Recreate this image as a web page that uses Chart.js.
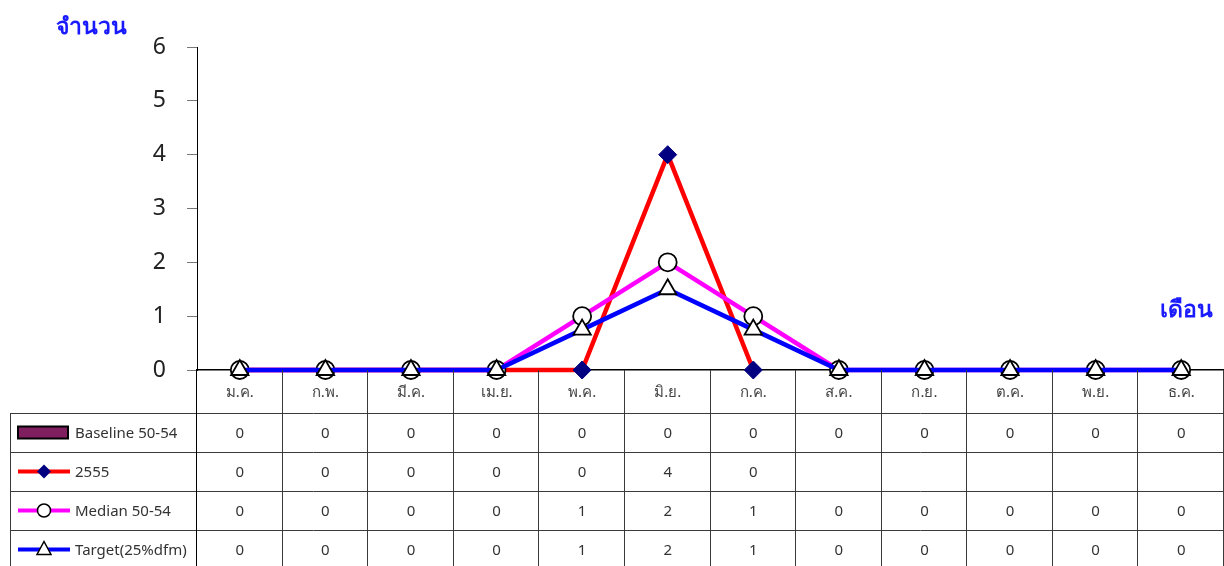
<!DOCTYPE html>
<html>
<head>
<meta charset="utf-8">
<script src="https://cdn.jsdelivr.net/npm/chart.js@4/dist/chart.umd.min.js"></script>
<style>
  body { margin: 0; background: #fff; }
  #chart { display: block; }
</style>
</head>
<body>
<canvas id="chart" width="1224" height="566"></canvas>
<script>
// months (x categories)
const months = ["ม.ค.", "ก.พ.", "มี.ค.", "เม.ย.", "พ.ค.", "มิ.ย.", "ก.ค.", "ส.ค.", "ก.ย.", "ต.ค.", "พ.ย.", "ธ.ค."];

const baseline = [0, 0, 0, 0, 0, 0, 0, 0, 0, 0, 0, 0];
const cases2555 = [0, 0, 0, 0, 0, 4, 0, null, null, null, null, null];
const median = [0, 0, 0, 0, 1, 2, 1, 0, 0, 0, 0, 0];
const target = [0, 0, 0, 0, 0.75, 1.5, 0.75, 0, 0, 0, 0, 0];

const yTicks = [0, 1, 2, 3, 4, 5, 6];

const fontFam = "'Noto Sans', 'DejaVu Sans', sans-serif";

// rows of the data table under the chart
const tableRows = [
  { name: "Baseline 50-54", values: baseline, key: "bar" },
  { name: "2555", values: cases2555, key: "diamond" },
  { name: "Median 50-54", values: median, key: "circle" },
  { name: "Target(25%dfm)", values: target, key: "triangle" }
];

const dataTablePlugin = {
  id: "dataTable",
  afterDraw(chart) {
    const ctx = chart.ctx;
    const x = chart.scales.x;
    const top = chart.chartArea.bottom;   // 370
    const headerH = 43;
    const rowH = 39;
    const left = 10;
    const right = chart.width;
    const half = (x.getPixelForValue(1) - x.getPixelForValue(0)) / 2;

    ctx.save();
    ctx.strokeStyle = "#3a3a3a";
    ctx.lineWidth = 1;

    // horizontal lines
    for (let r = 0; r <= tableRows.length; r++) {
      const y = Math.round(top + headerH + r * rowH) + 0.5;
      ctx.beginPath();
      ctx.moveTo(left, y);
      ctx.lineTo(right, y);
      ctx.stroke();
    }
    // left border of legend column
    ctx.beginPath();
    ctx.moveTo(left + 0.5, top + headerH);
    ctx.lineTo(left + 0.5, chart.height);
    ctx.stroke();
    // vertical lines between months
    for (let i = 0; i <= months.length; i++) {
      const px = Math.min(Math.round(x.getPixelForValue(0) - half + i * 2 * half) - 0.5, right - 0.5);
      ctx.strokeStyle = i === 0 ? "#000" : "#3a3a3a";
      ctx.beginPath();
      ctx.moveTo(px, top);
      ctx.lineTo(px, chart.height);
      ctx.stroke();
    }

    // values
    ctx.fillStyle = "#333";
    ctx.font = "15px " + fontFam;
    ctx.textAlign = "center";
    ctx.textBaseline = "middle";
    tableRows.forEach((row, r) => {
      const cy = top + headerH + r * rowH + rowH / 2 + 1;
      row.values.forEach((v, i) => {
        if (v === null) return;
        ctx.fillText(String(Math.round(v)), x.getPixelForValue(i), cy);
      });
    });

    // legend keys
    tableRows.forEach((row, r) => {
      const cy = top + headerH + r * rowH + rowH / 2;
      const kx1 = 18, kx2 = 70, kc = 44;
      if (row.key === "bar") {
        ctx.fillStyle = "#7f1f5f";
        ctx.strokeStyle = "#000";
        ctx.lineWidth = 2;
        ctx.fillRect(kx1, cy - 6, kx2 - kx1 - 2, 12);
        ctx.strokeRect(kx1, cy - 6, kx2 - kx1 - 2, 12);
      } else {
        const col = row.key === "diamond" ? "#ff0000" : row.key === "circle" ? "#ff00ff" : "#0000ff";
        ctx.strokeStyle = col;
        ctx.lineWidth = 4;
        ctx.beginPath();
        ctx.moveTo(kx1, cy);
        ctx.lineTo(kx2, cy);
        ctx.stroke();
        ctx.lineWidth = 1.5;
        ctx.strokeStyle = "#000";
        if (row.key === "diamond") {
          ctx.fillStyle = "#000080";
          ctx.beginPath();
          ctx.moveTo(kc, cy - 7); ctx.lineTo(kc + 7, cy); ctx.lineTo(kc, cy + 7); ctx.lineTo(kc - 7, cy);
          ctx.closePath();
          ctx.fill();
        } else if (row.key === "circle") {
          ctx.fillStyle = "#fff";
          ctx.beginPath();
          ctx.arc(kc, cy, 6.5, 0, Math.PI * 2);
          ctx.fill();
          ctx.stroke();
        } else {
          ctx.fillStyle = "#fff";
          ctx.beginPath();
          ctx.moveTo(kc, cy - 8); ctx.lineTo(kc + 7, cy + 5); ctx.lineTo(kc - 7, cy + 5);
          ctx.closePath();
          ctx.fill();
          ctx.stroke();
        }
      }
      ctx.fillStyle = "#333";
      ctx.font = "15px " + fontFam;
      ctx.textAlign = "left";
      ctx.fillText(row.name, 75, cy + 1);
    });

    // axis titles
    ctx.fillStyle = "#1a1aff";
    ctx.font = "bold 23px " + fontFam;
    ctx.textAlign = "center";
    ctx.fillText("จำนวน", 91, 27);
    ctx.fillText("เดือน", 1186, 310);
    ctx.restore();
  }
};

new Chart(document.getElementById("chart").getContext("2d"), {
  data: {
    labels: months,
    datasets: [
      {
        type: "bar",
        label: "Baseline 50-54",
        data: baseline,
        backgroundColor: "#7f1f5f",
        borderWidth: 0,
        order: 4
      },
      {
        type: "line",
        label: "2555",
        data: cases2555,
        borderColor: "#ff0000",
        borderWidth: 4.5,
        pointStyle: "rectRot",
        pointRadius: 9,
        pointBackgroundColor: "#000080",
        pointBorderColor: "#000080",
        pointBorderWidth: 1,
        tension: 0,
        clip: false,
        order: 3
      },
      {
        type: "line",
        label: "Median 50-54",
        data: median,
        borderColor: "#ff00ff",
        borderWidth: 4.5,
        pointStyle: "circle",
        pointRadius: 9,
        pointBackgroundColor: "#ffffff",
        pointBorderColor: "#000000",
        pointBorderWidth: 1.8,
        tension: 0,
        clip: false,
        order: 2
      },
      {
        type: "line",
        label: "Target(25%dfm)",
        data: target,
        borderColor: "#0000ff",
        borderWidth: 4.5,
        pointStyle: "triangle",
        pointRadius: 10,
        pointBackgroundColor: "#ffffff",
        pointBorderColor: "#000000",
        pointBorderWidth: 1.8,
        tension: 0,
        clip: false,
        order: 1
      }
    ]
  },
  options: {
    responsive: false,
    animation: false,
    layout: { autoPadding: false, padding: { top: 47, right: 0, left: 0, bottom: 0 } },
    plugins: {
      legend: { display: false },
      tooltip: { enabled: false }
    },
    scales: {
      x: {
        offset: true,
        afterFit: function (scale) {
          scale.height = 196;
        },
        grid: { display: false, offset: true },
        border: { display: true, color: "#000", width: 1.5 },
        ticks: {
          color: "#444",
          padding: 6,
          maxRotation: 0,
          font: { size: 15, family: fontFam }
        }
      },
      y: {
        min: 0,
        max: 6,
        afterFit: function (scale) { scale.width = 197; },
        afterBuildTicks: function (scale) {
          scale.ticks = yTicks.map(function (v) { return { value: v }; });
        },
        grid: { drawOnChartArea: false, tickLength: 10, color: "#777" },
        border: { display: true, color: "#000", width: 1 },
        ticks: {
          color: "#222",
          padding: 21,
          font: { size: 23, family: fontFam }
        }
      }
    }
  },
  plugins: [dataTablePlugin]
});
</script>
</body>
</html>
